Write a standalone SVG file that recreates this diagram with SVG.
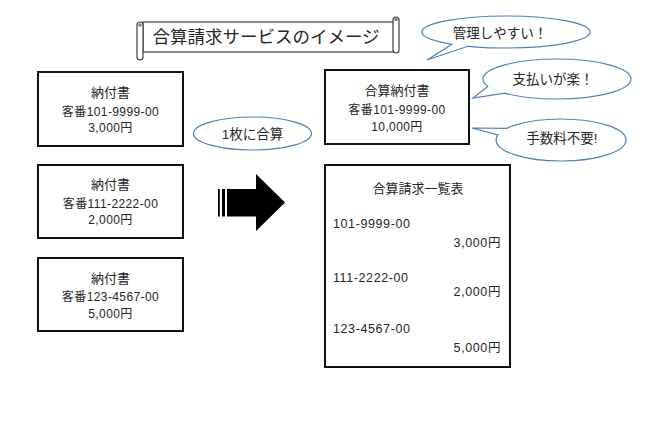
<svg xmlns="http://www.w3.org/2000/svg" width="650" height="425" viewBox="0 0 650 425">
<style>
text{font-family:"Liberation Sans","Noto Sans CJK JP",sans-serif;fill:#262626;}
.c{text-anchor:middle}
.e{text-anchor:end}
.h{font-size:13px}
.s{font-size:12px;letter-spacing:0.4px}
.n{font-size:12.5px;letter-spacing:0.6px}
.box{fill:#fff;stroke:#111;stroke-width:2}
.bl{fill:#fff;stroke:#4f81bd;stroke-width:1.2}
.tl{fill:none;stroke:#4f81bd;stroke-width:1.2;stroke-linejoin:miter}
.scr{fill:#fff;stroke:#404040;stroke-width:1.2}
</style>
<rect width="650" height="425" fill="#fff"/>

<g id="title">
<rect class="scr" x="143" y="22" width="255" height="30"/>
<path class="scr" d="M137,25 A3,3 0 0 1 143,25 V57 A3,3 0 0 1 137,57 Z"/>
<path class="scr" d="M393,20 A3,3 0 0 1 399,20 V50 A3,3 0 0 1 393,50 Z"/>
<circle cx="396" cy="19.5" r="1.8" fill="#808080"/>
<circle cx="140" cy="25" r="1.8" fill="#808080"/>
<text x="266" y="43" class="c" font-size="17.5">合算請求サービスのイメージ</text>
</g>

<g id="bill1">
<rect class="box" x="38" y="72" width="145" height="74"/>
<text x="110.5" y="97" class="c h">納付書</text>
<text x="110.5" y="115.5" class="c s">客番101-9999-00</text>
<text x="110.5" y="131.5" class="c s">3,000円</text>
</g>

<g id="bill2">
<rect class="box" x="38" y="165" width="145" height="73"/>
<text x="110.5" y="189" class="c h">納付書</text>
<text x="110.5" y="207.5" class="c s">客番111-2222-00</text>
<text x="110.5" y="224" class="c s">2,000円</text>
</g>

<g id="bill3">
<rect class="box" x="38" y="258" width="145" height="73"/>
<text x="110.5" y="282.5" class="c h">納付書</text>
<text x="110.5" y="301" class="c s">客番123-4567-00</text>
<text x="110.5" y="317.5" class="c s">5,000円</text>
</g>

<g id="merge-label">
<ellipse class="bl" cx="252.5" cy="133.5" rx="59" ry="16.5"/>
<text x="252.5" y="138.5" class="c" font-size="13.5">1枚に合算</text>
</g>

<g id="connectors">
<rect x="218" y="189" width="1.8" height="27.5" fill="#000"/>
<rect x="222" y="189" width="3" height="27.5" fill="#000"/>
<path d="M227,189 H256 V174 L285,202.5 L256,231 V216.5 H227 Z" fill="#000"/>
</g>

<g id="merged-bill">
<rect class="box" x="325" y="70" width="144" height="74"/>
<text x="397" y="95" class="c h">合算納付書</text>
<text x="397" y="113.5" class="c s">客番101-9999-00</text>
<text x="397" y="130.5" class="c s">10,000円</text>
</g>

<g id="statement">
<rect class="box" x="325" y="165" width="185" height="202"/>
<text x="418" y="193" class="c h">合算請求一覧表</text>
<text x="333" y="227.5" class="n">101-9999-00</text>
<text x="501" y="246.5" class="e n">3,000円</text>
<text x="333" y="281.5" class="n">111-2222-00</text>
<text x="501" y="296" class="e n">2,000円</text>
<text x="333" y="332.5" class="n">123-4567-00</text>
<text x="501" y="352" class="e n">5,000円</text>
</g>

<g id="callout1">
<ellipse class="bl" cx="506" cy="32" rx="84" ry="16"/>
<polygon points="452,44.3 427,60 468,46.3 460,40" fill="#fff"/>
<polyline class="tl" points="452,44.3 427,60 468,46.3"/>
<text x="500" y="38" class="c" font-size="13.5">管理しやすい！</text>
</g>

<g id="callout2">
<ellipse class="bl" cx="557" cy="79" rx="74" ry="20"/>
<polygon points="488,86.2 473,98 505,93.2 500,86" fill="#fff"/>
<polyline class="tl" points="488,86.2 473,98 505,93.2"/>
<text x="553" y="83.5" class="c" font-size="13.5">支払いが楽！</text>
</g>

<g id="callout3">
<ellipse class="bl" cx="561" cy="140" rx="65" ry="21"/>
<polygon points="507,128.3 472,128 498,134.8 506,134" fill="#fff"/>
<polyline class="tl" points="507,128.3 472,128 498,134.8"/>
<text x="562" y="143" class="c" font-size="13.5">手数料不要!</text>
</g>
</svg>
